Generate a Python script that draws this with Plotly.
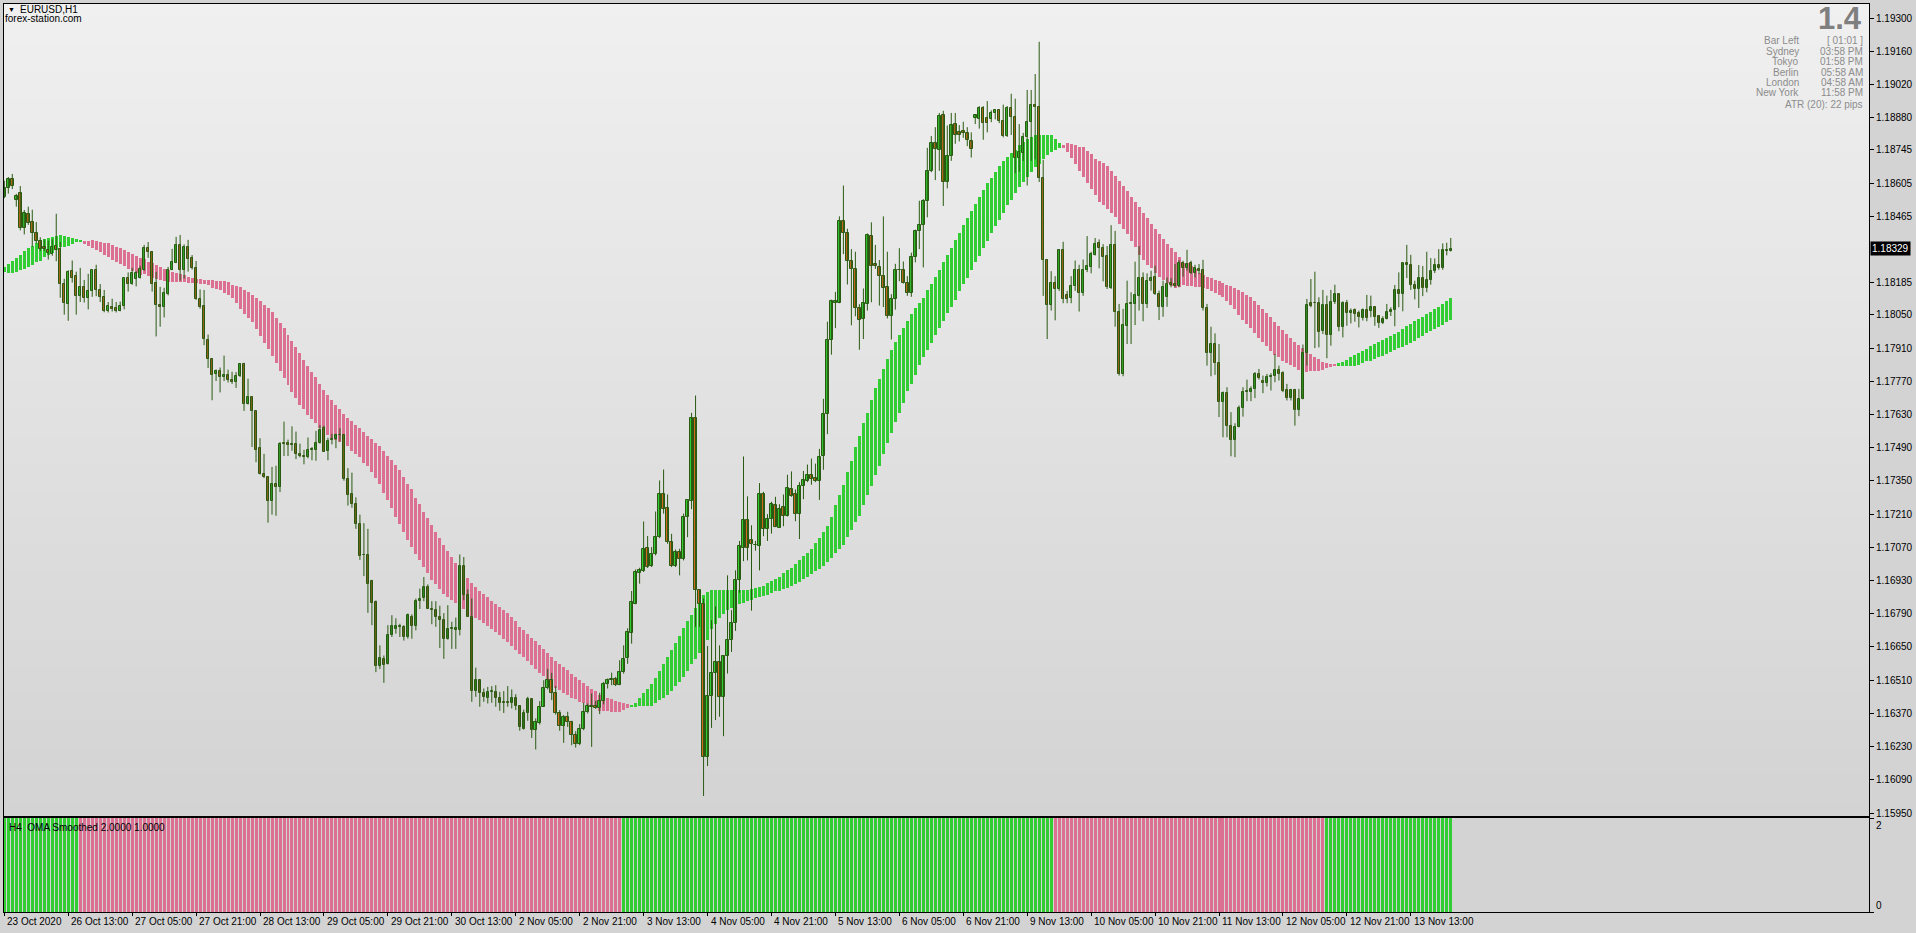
import numpy as np
import plotly.graph_objects as go

# ---------------- data (prices in points, 1 point = 0.00001) ----------------
OPEN = [
118548,118583,118624,118532,118564,118415,118476,118441,118394,118361,
118336,118323,118307,118339,118328,118181,118094,118235,118213,118131,
118168,118119,118151,118238,118154,118125,118065,118083,118078,118067,
118086,118205,118180,118203,118205,118241,118331,118316,118186,118093,
118081,118139,118238,118268,118345,118238,118336,118290,118248,118117,
118089,117945,117864,117801,117814,117788,117797,117777,117767,117793,
117841,117674,117704,117645,117487,117381,117365,117266,117339,117324,
117510,117510,117506,117506,117465,117456,117449,117481,117481,117510,
117571,117477,117522,117527,117542,117545,117358,117293,117253,117169,
117036,117039,116927,116839,116570,116601,116579,116701,116727,116734,
116734,116694,116778,116739,116843,116857,116904,116812,116805,116775,
116765,116685,116726,116722,116720,116993,116868,116778,116466,116509,
116455,116437,116461,116461,116433,116417,116417,116416,116437,116403,
116306,116370,116429,116299,116328,116399,116476,116510,116458,116370,
116319,116357,116332,116278,116243,116306,116374,116395,116403,116393,
116422,116496,116509,116514,116490,116546,116605,116711,116833,116963,
116970,117068,116991,117042,117112,117293,117237,117092,116991,117049,
117021,117200,117265,117616,116892,116833,116187,116443,116542,116586,
116440,116611,116678,116753,116931,117068,117186,117101,117082,117076,
117293,117148,117188,117248,117153,117241,117202,117318,117293,117210,
117328,117351,117376,117361,117349,117457,117630,117944,118099,118099,
118444,118393,118279,118242,118079,118033,118097,118383,118263,118250,
118213,118167,118044,118116,118240,118240,118186,118141,118292,118403,
118428,118529,118655,118773,118746,118891,118610,118721,118854,118819,
118823,118817,118781,118881,118874,118922,118879,118874,118899,118912,
118866,118802,118922,118883,118713,118734,118800,118864,118936,118926,
118626,118283,118093,118186,118157,118323,118134,118122,118170,118240,
118141,118240,118250,118304,118354,118331,118298,118163,118344,118061,
117801,118004,118096,118096,118129,118205,118096,118192,118211,118138,
118082,118125,118184,118180,118173,118268,118247,118268,118225,118244,
118240,118079,117888,117927,117847,117683,117721,117581,117523,117576,
117658,117724,117724,117738,117801,117770,117763,117787,117792,117819,
117805,117734,117699,117734,117649,117696,117889,118100,118100,118100,
117981,118091,117965,118103,118138,117997,118100,118056,118070,118058,
118037,118070,118065,118083,118045,118014,118034,118061,118070,118155,
118138,118268,118260,118176,118157,118205,118163,118197,118233,118260,
118246,118324,118321]

HIGH = [
118615,118631,118644,118560,118593,118492,118506,118493,118441,118377,
118368,118363,118368,118476,118357,118202,118238,118279,118232,118248,
118197,118223,118238,118261,118180,118155,118104,118118,118104,118106,
118205,118229,118248,118234,118257,118345,118357,118319,118231,118168,
118164,118252,118328,118379,118387,118347,118366,118302,118277,118157,
118155,117967,117867,117820,117828,117878,117819,117810,117809,117846,
117848,117781,117704,117645,117530,117464,117368,117409,117414,117514,
117600,117524,117580,117558,117507,117481,117533,117493,117561,117585,
117583,117532,117549,117549,117572,117545,117404,117385,117281,117208,
117172,117148,116933,116846,116657,116614,116742,116784,116771,116748,
116742,116791,116788,116854,116896,116945,116914,116843,116843,116824,
116793,116826,116756,116774,117040,117029,116893,116855,116563,116511,
116475,116482,116485,116489,116461,116464,116485,116471,116451,116405,
116386,116440,116433,116349,116422,116510,116558,116541,116485,116384,
116363,116377,116339,116295,116325,116415,116412,116454,116423,116457,
116503,116517,116542,116524,116594,116657,116729,116886,116977,116984,
117179,117118,117071,117221,117352,117398,117293,117127,117061,117064,
117212,117268,117637,117710,116892,116854,116654,116763,116821,116657,
116615,116952,116805,116973,117097,117453,117285,117163,117097,117341,
117304,117210,117262,117283,117252,117293,117376,117390,117314,117345,
117392,117419,117444,117423,117485,117696,118021,118114,118147,118465,
118595,118413,118327,118316,118095,118161,118393,118440,118345,118281,
118465,118316,118137,118265,118331,118275,118213,118312,118409,118531,
118538,118754,118804,118841,118901,118910,118848,118901,118901,118850,
118864,118841,118819,118895,118930,118930,118951,118912,118916,118916,
118936,118930,118982,118961,118854,118817,118998,118998,119065,119201,
118703,118285,118234,118213,118327,118358,118151,118213,118279,118261,
118283,118382,118316,118374,118368,118348,118340,118428,118404,118096,
118075,118194,118145,118274,118340,118229,118225,118236,118257,118152,
118194,118208,118205,118264,118281,118278,118324,118278,118261,118264,
118282,118096,118000,117972,117927,117727,117745,117640,117593,117668,
117745,117777,117749,117809,117822,117794,117801,117804,117885,117836,
117812,117759,117738,117738,117738,117925,118117,118201,118232,118124,
118155,118131,118155,118177,118138,118107,118113,118077,118077,118068,
118077,118134,118131,118086,118049,118044,118096,118082,118176,118229,
118268,118345,118303,118194,118260,118256,118316,118289,118288,118327,
118351,118354,118374]

LOW = [
118542,118561,118580,118506,118406,118389,118429,118337,118351,118319,
118319,118283,118299,118276,118122,118051,118025,118186,118051,118104,
118102,118073,118126,118129,118104,118061,118060,118064,118060,118065,
118073,118148,118177,118170,118203,118235,118290,118148,117959,118000,
118039,118132,118238,118268,118194,118203,118232,118241,118113,118076,
117922,117826,117690,117771,117723,117771,117765,117759,117742,117788,
117645,117672,117493,117429,117377,117362,117174,117208,117203,117303,
117455,117455,117477,117442,117449,117420,117445,117437,117435,117507,
117472,117437,117504,117488,117516,117351,117246,117237,117148,117017,
116949,116794,116742,116544,116557,116499,116576,116692,116706,116692,
116677,116685,116685,116720,116810,116843,116810,116746,116735,116646,
116600,116681,116642,116642,116699,116847,116777,116419,116440,116398,
116419,116412,116415,116398,116381,116372,116398,116391,116384,116297,
116302,116339,116267,116218,116323,116398,116471,116426,116365,116297,
116246,116313,116236,116226,116236,116299,116370,116229,116389,116367,
116408,116475,116489,116485,116489,116538,116579,116664,116830,116917,
116966,116983,116987,117036,117109,117212,117085,116987,116987,116952,
117015,117113,117231,116735,116735,116022,116148,116309,116342,116356,
116274,116538,116629,116718,116879,117012,117015,116803,117056,116973,
117117,117097,117128,117155,117153,117159,117200,117283,117180,117105,
117273,117345,117334,117345,117270,117397,117547,117882,117994,118099,
118306,118178,118006,118044,117903,117948,118068,118103,118244,118089,
118083,118035,117946,118072,118192,118182,118130,118126,118271,118327,
118250,118461,118651,118618,118657,118509,118583,118699,118771,118781,
118796,118761,118713,118854,118835,118788,118819,118862,118874,118858,
118798,118800,118808,118647,118653,118699,118595,118699,118705,118610,
118130,117948,118068,118027,118151,118099,118099,118099,118151,118064,
118130,118230,118225,118300,118246,118191,118159,118159,118000,117794,
117791,117927,117927,118007,118068,118023,118079,118152,118134,118028,
118042,118084,118166,118166,118166,118211,118236,118222,118208,118222,
118068,117836,117791,117797,117619,117534,117534,117454,117450,117576,
117621,117686,117686,117699,117777,117720,117748,117731,117766,117773,
117724,117689,117689,117583,117623,117694,117836,118082,117910,117913,
117969,117867,117920,118096,117981,117955,118004,118014,118021,117997,
118026,118023,118040,118004,117995,118011,118031,118045,118002,118082,
118065,118205,118155,118115,118079,118129,118145,118177,118226,118240,
118240,118301,118317]

CLOSE = [
118583,118624,118595,118553,118415,118480,118438,118394,118360,118328,
118328,118309,118338,118325,118178,118099,118232,118206,118128,118167,
118123,118151,118238,118154,118125,118065,118087,118073,118068,118089,
118205,118180,118226,118228,118244,118331,118313,118180,118090,118081,
118144,118238,118273,118345,118238,118336,118287,118248,118115,118084,
117948,117862,117797,117814,117788,117797,117775,117765,117793,117841,
117674,117704,117645,117481,117379,117365,117266,117339,117324,117506,
117504,117501,117501,117465,117456,117449,117481,117484,117510,117565,
117472,117519,117527,117543,117545,117358,117291,117253,117169,117034,
117039,116916,116836,116570,116605,116576,116702,116740,116740,116737,
116694,116784,116739,116843,116854,116904,116810,116806,116777,116765,
116685,116727,116729,116729,116993,116868,116777,116466,116509,116455,
116440,116461,116464,116433,116416,116415,116415,116437,116403,116311,
116370,116429,116299,116333,116399,116476,116510,116458,116370,116319,
116357,116332,116278,116243,116306,116374,116400,116403,116393,116422,
116496,116510,116514,116490,116546,116601,116715,116838,116965,116973,
117064,116987,117043,117112,117293,117231,117092,116991,117049,117021,
117200,117268,117616,116892,116833,116187,116443,116542,116586,116440,
116611,116678,116753,116931,117074,117186,117067,117084,117078,117293,
117148,117188,117252,117155,117231,117202,117322,117287,117210,117328,
117353,117376,117359,117351,117452,117630,117944,118110,118110,118444,
118393,118279,118242,118079,118027,118099,118385,118258,118256,118213,
118163,118044,118116,118240,118238,118186,118141,118292,118403,118430,
118531,118655,118773,118748,118889,118610,118721,118850,118808,118808,
118817,118788,118748,118891,118920,118860,118860,118901,118912,118866,
118802,118922,118883,118713,118736,118800,118864,118936,118926,118626,
118283,118093,118186,118157,118323,118118,118118,118170,118240,118141,
118240,118256,118308,118349,118333,118292,118166,118344,118061,117801,
118007,118096,118100,118135,118205,118096,118194,118207,118138,118082,
118169,118180,118177,118173,118268,118247,118264,118225,118247,118236,
118079,117888,117927,117847,117683,117721,117581,117523,117579,117658,
117725,117727,117738,117801,117784,117763,117790,117794,117819,117801,
117728,117699,117734,117649,117696,117889,118091,118086,118098,117976,
118091,117965,118106,118138,117997,118100,118056,118068,118052,118040,
118070,118037,118083,118040,118016,118034,118063,118070,118155,118138,
118268,118260,118176,118157,118205,118163,118197,118236,118260,118246,
118323,118321,118329]

# H4 OMA band (upper / lower edge of each histogram bar)
BAND_HI = [
118252,118264,118278,118290,118303,118319,118332,118339,118354,118365,
118371,118374,118379,118383,118387,118383,118379,118374,118370,118363,
118363,118363,118367,118363,118357,118354,118354,118345,118336,118332,
118325,118316,118307,118297,118290,118284,118274,118268,118261,118252,
118244,118239,118232,118228,118223,118216,118210,118206,118202,118200,
118197,118197,118197,118194,118194,118191,118189,118177,118173,118167,
118155,118148,118135,118122,118107,118093,118080,118060,118038,118017,
117996,117967,117941,117915,117890,117861,117836,117810,117786,117759,
117735,117713,117690,117671,117652,117633,117617,117603,117587,117571,
117556,117540,117527,117511,117498,117478,117457,117440,117419,117394,
117365,117339,117314,117280,117251,117221,117192,117163,117133,117108,
117078,117053,117028,117003,116987,116965,116939,116918,116901,116885,
116872,116859,116843,116830,116817,116805,116792,116775,116758,116733,
116720,116704,116687,116674,116657,116640,116624,116607,116590,116577,
116565,116552,116535,116523,116510,116497,116485,116473,116464,116447,
116440,116433,116429,116423,116417,116413,116409,116406,116416,116436,
116454,116473,116496,116520,116549,116579,116608,116636,116667,116697,
116729,116760,116784,116813,116843,116868,116880,116889,116892,116889,
116889,116889,116889,116889,116889,116889,116890,116894,116898,116903,
116907,116919,116927,116936,116944,116960,116973,116985,117000,117016,
117033,117045,117062,117087,117109,117134,117159,117200,117248,117289,
117334,117386,117436,117492,117541,117593,117638,117690,117740,117781,
117820,117862,117903,117934,117963,117996,118025,118052,118077,118101,
118122,118153,118182,118211,118240,118271,118304,118333,118366,118397,
118430,118459,118488,118519,118548,118577,118606,118628,118653,118678,
118699,118715,118734,118746,118765,118779,118792,118798,118808,118808,
118808,118808,118808,118792,118775,118767,118775,118771,118767,118759,
118759,118742,118730,118709,118697,118688,118678,118657,118636,118615,
118594,118573,118548,118527,118506,118480,118459,118434,118413,118392,
118371,118350,118333,118316,118292,118268,118268,118257,118243,118226,
118219,118211,118204,118198,118191,118184,118177,118172,118163,118155,
118148,118135,118124,118107,118093,118076,118059,118042,118021,118004,
117988,117971,117954,117937,117924,117912,117899,117887,117874,117864,
117850,117847,117844,117842,117846,117853,117861,117874,117882,117891,
117899,117908,117920,117929,117937,117946,117954,117962,117971,117979,
117992,118002,118013,118023,118031,118042,118055,118063,118076,118085,
118096,118108,118122]

BAND_LO = [
118232,118228,118228,118232,118239,118244,118252,118261,118271,118278,
118292,118302,118310,118325,118336,118338,118342,118350,118355,118358,
118348,118341,118332,118325,118316,118303,118294,118283,118273,118264,
118254,118244,118235,118226,118219,118221,118212,118206,118202,118197,
118194,118187,118187,118187,118187,118187,118186,118186,118183,118181,
118181,118174,118164,118157,118154,118144,118134,118122,118099,118076,
118055,118038,118018,117991,117962,117933,117907,117875,117845,117812,
117783,117754,117726,117701,117672,117652,117629,117613,117594,117575,
117561,117545,117530,117522,117516,117507,117496,117478,117464,117449,
117427,117411,117387,117362,117336,117301,117268,117234,117200,117167,
117133,117102,117071,117040,117015,116987,116962,116934,116914,116893,
116872,116859,116847,116834,116822,116810,116792,116779,116771,116763,
116751,116739,116726,116714,116699,116685,116671,116654,116639,116622,
116607,116590,116573,116556,116541,116527,116507,116490,116479,116468,
116454,116447,116437,116429,116420,116412,116405,116398,116391,116381,
116379,116379,116377,116377,116377,116384,116393,116400,116398,116400,
116402,116402,116402,116413,116426,116436,116447,116465,116486,116502,
116524,116548,116577,116600,116625,116650,116678,116727,116749,116774,
116791,116805,116813,116824,116833,116836,116845,116849,116855,116859,
116863,116869,116878,116884,116888,116894,116898,116907,116915,116923,
116936,116944,116956,116969,116979,116993,117008,117024,117047,117062,
117080,117113,117142,117175,117204,117248,117289,117330,117374,117415,
117463,117508,117554,117597,117638,117680,117727,117760,117798,117837,
117874,117903,117932,117965,117996,118025,118056,118083,118114,118149,
118178,118207,118240,118271,118300,118333,118362,118393,118424,118451,
118480,118511,118535,118562,118589,118612,118633,118651,118674,118684,
118707,118724,118738,118746,118755,118755,118738,118713,118684,118655,
118631,118606,118581,118556,118527,118515,118498,118478,118461,118435,
118410,118389,118362,118337,118302,118282,118261,118247,118225,118211,
118198,118184,118173,118163,118169,118176,118173,118173,118169,118166,
118162,118159,118152,118143,118135,118124,118110,118093,118073,118051,
118030,118013,117993,117972,117951,117934,117917,117899,117882,117871,
117857,117846,117837,117829,117819,117812,117808,117812,117812,117815,
117816,117825,117829,117836,117833,117833,117836,117836,117836,117840,
117849,117854,117857,117864,117871,117878,117887,117895,117902,117909,
117916,117924,117933,117941,117954,117962,117972,117981,117989,117997,
118009,118021,118030]

# trend direction runs (direction, number of bars)
BAND_RUNS = [("up", 20), ("down", 137), ("up", 108), ("down", 69), ("up", 29)]
H4_RUNS = [("up", 19), ("down", 136), ("up", 108), ("down", 68), ("up", 32)]

TIME_LABELS = ["23 Oct 2020", "26 Oct 13:00", "27 Oct 05:00", "27 Oct 21:00", "28 Oct 13:00",
               "29 Oct 05:00", "29 Oct 21:00", "30 Oct 13:00", "2 Nov 05:00", "2 Nov 21:00",
               "3 Nov 13:00", "4 Nov 05:00", "4 Nov 21:00", "5 Nov 13:00", "6 Nov 05:00",
               "6 Nov 21:00", "9 Nov 13:00", "10 Nov 05:00", "10 Nov 21:00", "11 Nov 13:00",
               "12 Nov 05:00", "12 Nov 21:00", "13 Nov 13:00"]
LABEL_STEP = 16  # bars between time labels

PRICE_TICKS = [1.19300, 1.19160, 1.19020, 1.18880, 1.18745, 1.18605, 1.18465, 1.18185,
               1.18050, 1.17910, 1.17770, 1.17630, 1.17490, 1.17350, 1.17210, 1.17070,
               1.16930, 1.16790, 1.16650, 1.16510, 1.16370, 1.16230, 1.16090, 1.15950]
LAST_PRICE = 1.18329

INFO_ROWS = [("Bar Left", "[ 01:01 ]"), ("Sydney", "03:58 PM"), ("Tokyo", "01:58 PM"),
             ("Berlin", "05:58 AM"), ("London", "04:58 AM"), ("New York", "11:58 PM")]
ATR_TEXT = "ATR (20): 22 pips"
BIG_VALUE = "1.4"

# ---------------- styling ----------------
W, H = 1916, 933
L, R, T, B = 3, 46, 3, 21
PW, PH = W - L - R, H - T - B
MAIN_BOTTOM_PX, SUB_TOP_PX = 816, 818

GREEN = "#32CD32"
PINK = "#DB7093"
BULL = "#32CD32"
BEAR = "#D2691E"
OUTLINE = "#2A5A12"
FONT = "Liberation Sans, Arial, sans-serif"

def px(x):
    return (x - L) / PW

def py(y):
    return (H - B - y) / PH

o = np.array(OPEN) / 1e5
h = np.array(HIGH) / 1e5
lo = np.array(LOW) / 1e5
c = np.array(CLOSE) / 1e5
bh = np.array(BAND_HI) / 1e5
bl = np.array(BAND_LO) / 1e5
n = len(o)
idx = np.arange(n)

def expand(runs):
    out = []
    for d, k in runs:
        out += [GREEN if d == "up" else PINK] * k
    return out

band_colors = expand(BAND_RUNS)
h4_colors = expand(H4_RUNS)

# x range: 4 px per bar, first bar centred at x = 3.3 px
bar_px = 4.0
x0 = -(3.3 - L) / bar_px
x1 = x0 + PW / bar_px
# y range of the main window
ppu = 23751.0  # pixels per price unit
y_top = 1.19300 + (17.3 - T) / ppu
y_bot = 1.19300 - (MAIN_BOTTOM_PX - 17.3) / ppu

fig = go.Figure()

# OMA band
fig.add_trace(go.Bar(x=idx, y=bh - bl, base=bl, width=0.75, marker=dict(color=band_colors, line=dict(width=0)),
                     hoverinfo="skip", showlegend=False, xaxis="x", yaxis="y"))

# wicks
wx, wy = [], []
for i in range(n):
    wx += [i, i, None]
    wy += [lo[i], h[i], None]
fig.add_trace(go.Scatter(x=wx, y=wy, mode="lines", line=dict(color=OUTLINE, width=1),
                         hoverinfo="skip", showlegend=False, xaxis="x", yaxis="y"))

# bodies
body_base = np.minimum(o, c)
body_h = np.maximum(np.abs(c - o), 0.000025)
body_col = [BULL if c[i] >= o[i] else BEAR for i in range(n)]
fig.add_trace(go.Bar(x=idx, y=body_h, base=body_base, width=0.62,
                     marker=dict(color=body_col, line=dict(color=OUTLINE, width=1)),
                     hoverinfo="skip", showlegend=False, xaxis="x", yaxis="y"))

# sub-window histogram
fig.add_trace(go.Bar(x=idx, y=[2] * n, width=0.75, marker=dict(color=h4_colors, line=dict(width=0)),
                     hoverinfo="skip", showlegend=False, xaxis="x2", yaxis="y2"))

# background gradient of the main window
shapes = []
ns = 60
top_c, bot_c = np.array([240, 240, 240]), np.array([211, 211, 211])
for k in range(ns):
    f = (k + 0.5) / ns
    col = top_c + (bot_c - top_c) * f
    shapes.append(dict(type="rect", xref="x domain", yref="y domain", x0=0, x1=1,
                       y0=1 - (k + 1) / ns, y1=1 - k / ns + 0.001, layer="below",
                       fillcolor="rgb(%d,%d,%d)" % tuple(col.round()), line=dict(width=0)))

main_dom = [py(MAIN_BOTTOM_PX), 1]
sub_dom = [0, py(SUB_TOP_PX)]

axis_common = dict(showgrid=False, zeroline=False, showline=True, mirror=True,
                   linecolor="black", linewidth=1)

fig.update_layout(
    width=W, height=H,
    margin=dict(l=L, r=R, t=T, b=B, pad=0),
    paper_bgcolor="#D3D3D3", plot_bgcolor="#D3D3D3",
    barmode="overlay", bargap=0, showlegend=False,
    font=dict(family=FONT, size=10, color="black"),
    shapes=shapes,
    xaxis=dict(domain=[0, 1], range=[x0, x1], anchor="y", showticklabels=False, ticks="", **axis_common),
    yaxis=dict(domain=main_dom, range=[y_bot, y_top], side="right", anchor="x",
               tickvals=PRICE_TICKS, ticktext=["%.5f" % v for v in PRICE_TICKS],
               ticks="outside", ticklen=4, tickcolor="black", tickwidth=1,
               tickfont=dict(family=FONT, size=10, color="black"), **axis_common),
    xaxis2=dict(domain=[0, 1], range=[x0, x1], anchor="y2", matches="x",
                tickvals=list(range(0, n, LABEL_STEP))[:len(TIME_LABELS)], showticklabels=False,
                ticks="outside", ticklen=3, tickcolor="black", tickwidth=1, **axis_common),
    yaxis2=dict(domain=sub_dom, range=[0, 2], side="right", anchor="x2",
                tickvals=[0, 2], showticklabels=False, ticks="outside", ticklen=4,
                tickcolor="black", tickwidth=1, **axis_common),
)

ann = []
# time labels
for k, lab in enumerate(TIME_LABELS):
    ann.append(dict(x=k * LABEL_STEP, xref="x2", y=py(922), yref="paper", text=lab, showarrow=False,
                    xanchor="left", yanchor="middle", xshift=1, font=dict(size=10, color="black")))
# sub-window scale labels
ann.append(dict(x=px(1875), xref="paper", y=py(825), yref="paper", text="2", showarrow=False,
                xanchor="left", yanchor="middle", font=dict(size=10)))
ann.append(dict(x=px(1875), xref="paper", y=py(905), yref="paper", text="0", showarrow=False,
                xanchor="left", yanchor="middle", font=dict(size=10)))
# last price label
ann.append(dict(x=px(1871), xref="paper", y=LAST_PRICE, yref="y", text="%.5f" % LAST_PRICE,
                showarrow=False, xanchor="left", yanchor="middle", bgcolor="black",
                font=dict(size=10, color="white"), borderpad=1))
# top-left titles
ann.append(dict(x=px(5), xref="paper", y=py(9), yref="paper", text="▼", showarrow=False,
                xanchor="left", yanchor="middle", font=dict(size=7, color="black")))
ann.append(dict(x=px(17), xref="paper", y=py(9), yref="paper", text="EURUSD,H1", showarrow=False,
                xanchor="left", yanchor="middle", font=dict(size=10, color="black")))
ann.append(dict(x=px(2), xref="paper", y=py(18), yref="paper", text="forex-station.com", showarrow=False,
                xanchor="left", yanchor="middle", font=dict(size=10, color="black")))
# big value top-right
ann.append(dict(x=px(1865), xref="paper", y=py(18), yref="paper", text="<b>%s</b>" % BIG_VALUE,
                showarrow=False, xanchor="right", yanchor="middle",
                font=dict(family="Liberation Sans Narrow, Liberation Sans, sans-serif", size=31, color="#7F7F7F")))
for r, (lab, val) in enumerate(INFO_ROWS):
    yy = 40 + r * 10.4
    ann.append(dict(x=px(1802), xref="paper", y=py(yy), yref="paper", text=lab, showarrow=False,
                    xanchor="right", yanchor="middle", font=dict(size=10, color="#8C8C8C")))
    ann.append(dict(x=px(1866), xref="paper", y=py(yy), yref="paper", text=val, showarrow=False,
                    xanchor="right", yanchor="middle", font=dict(size=10, color="#8C8C8C")))
ann.append(dict(x=px(1866), xref="paper", y=py(104), yref="paper", text=ATR_TEXT, showarrow=False,
                xanchor="right", yanchor="middle", font=dict(size=10, color="#8C8C8C")))
# sub-window title
ann.append(dict(x=px(6), xref="paper", y=py(827), yref="paper", text="H4  OMA Smoothed 2.0000 1.0000",
                showarrow=False, xanchor="left", yanchor="middle", font=dict(size=10, color="black")))

fig.update_layout(annotations=ann)

fig.write_html("out.html", include_plotlyjs=True, config={"displayModeBar": False},
               post_script="document.body.style.margin='0';document.body.style.padding='0';"
                           "document.body.style.overflow='hidden';")
